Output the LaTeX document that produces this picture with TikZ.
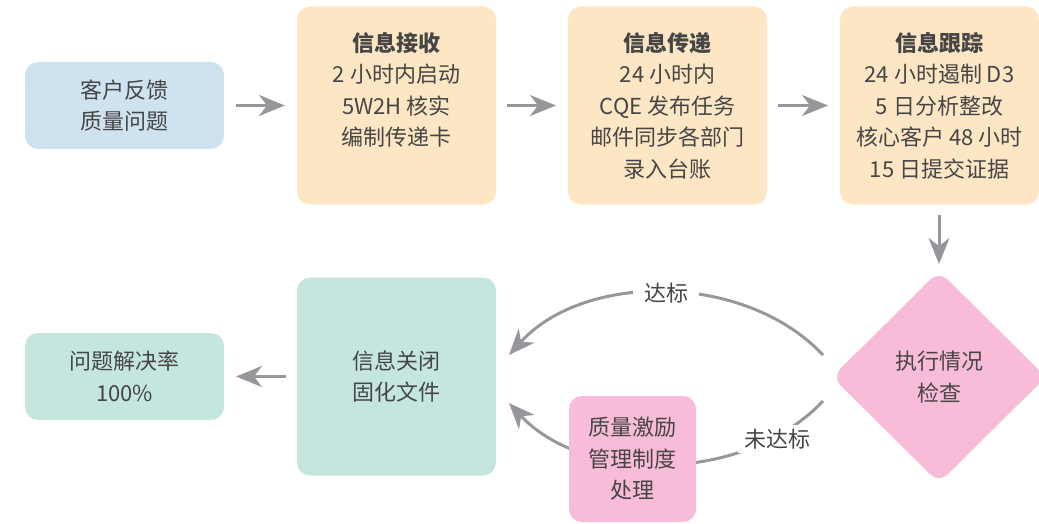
\documentclass[tikz,border=0pt]{standalone}
\usepackage{fontspec}
\setmainfont{Noto Sans CJK SC}
\usetikzlibrary{arrows.meta,shapes.geometric,calc}
\definecolor{txt}{RGB}{70,70,70}
\definecolor{arrg}{RGB}{150,151,155}
\definecolor{cblue}{RGB}{207,226,240}
\definecolor{cpeach}{RGB}{253,230,196}
\definecolor{cteal}{RGB}{196,230,223}
\definecolor{cpink}{RGB}{248,187,216}
\tikzset{
  base/.style={rounded corners=13pt, inner sep=0pt, outer sep=0pt, align=center,
    text=txt, font=\fontsize{22pt}{31.5pt}\selectfont},
  smallbox/.style={base, minimum width=199pt, minimum height=87pt},
  bigbox/.style={base, minimum width=199pt, minimum height=198pt},
  arr/.style={draw=arrg, line width=3pt, -{Stealth[length=26pt,width=21pt,inset=8pt]}},
  lbl/.style={fill=white, text=txt, font=\fontsize{22pt}{31.5pt}\selectfont, inner ysep=4pt}
}
\begin{document}
\begin{tikzpicture}[x=1pt,y=-1pt]
\useasboundingbox (0,0) rectangle (1039,524);
% top row
\node[smallbox, fill=cblue] (fb) at (124.5,105.5) {客户反馈\\质量问题};
\node[bigbox, fill=cpeach] (rcv) at (396.5,105.5) {\textbf{信息接收}\\2 小时内启动\\5W2H 核实\\编制传递卡\\\phantom{编}};
\node[bigbox, fill=cpeach] (tr) at (667.5,105.5) {\textbf{信息传递}\\24 小时内\\CQE 发布任务\\邮件同步各部门\\录入台账};
\node[bigbox, fill=cpeach] (trk) at (939.5,105.5) {\textbf{信息跟踪}\\24 小时遏制 D3\\5 日分析整改\\核心客户 48 小时\\15 日提交证据};
% check diamond
\node[base, shape=diamond, rounded corners=12pt, fill=cpink, minimum width=214pt, minimum height=212pt] (chk) at (939,377) {执行情况\\检查};
% bottom row
\node[bigbox, fill=cteal] (cl) at (396.5,376.5) {信息关闭\\固化文件};
\node[smallbox, fill=cteal] (rt) at (124.5,376.5) {问题解决率\\100\%};
% straight arrows
\draw[arr, shorten <=12pt, shorten >=12pt] (fb) -- (rcv);
\draw[arr, shorten <=11pt, shorten >=12pt] (rcv) -- (tr);
\draw[arr, shorten <=11pt, shorten >=12pt] (tr) -- (trk);
\draw[arr, shorten <=10.5pt, shorten >=7pt] (trk.south -| chk.north) -- (chk.north);
\draw[arr, shorten <=11pt, shorten >=12pt] (cl) -- (rt);
% curved arrows
\draw[arr] ($(chk.west)+(-9,-22)$) .. controls ($(chk.west)+(-87,-105)$) and ($(cl.east)+(88,-104.5)$) .. ($(cl.east)+(13,-21.5)$);
\draw[arr] ($(chk.west)+(-9,24)$) .. controls ($(chk.west)+(-87,107)$) and ($(cl.east)+(88,107.5)$) .. ($(cl.east)+(13,26.5)$);
\node[lbl, inner xsep=11pt] (ok) at (666,293) {达标};
\node[lbl, inner xsep=6pt] (nok) at (777,439) {未达标};
\node[base, fill=cpink, minimum width=127pt, minimum height=126pt] (inc) at (632.5,459) {质量激励\\管理制度\\处理};
\end{tikzpicture}
\end{document}
